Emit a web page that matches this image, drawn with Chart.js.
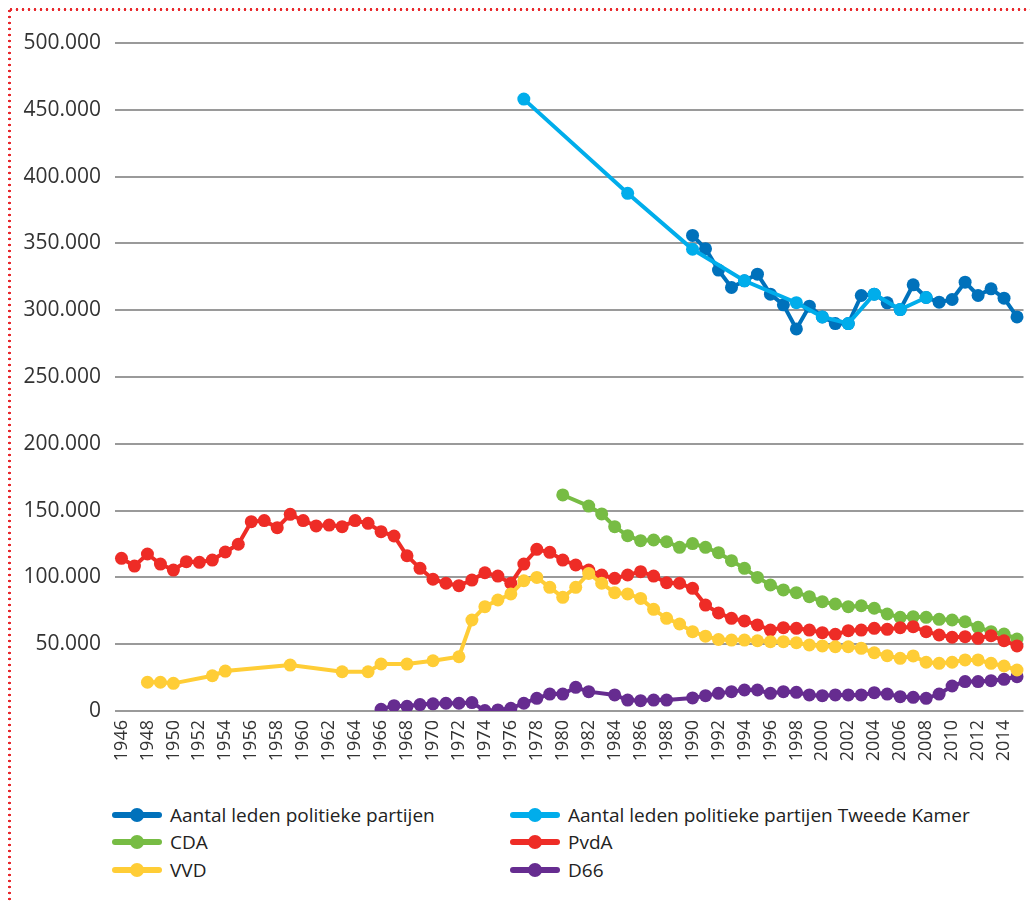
<!DOCTYPE html>
<html>
<head>
<meta charset="utf-8">
<script src="https://cdn.jsdelivr.net/npm/chart.js@4/dist/chart.umd.min.js"></script>
<style>
  html, body { margin: 0; padding: 0; background: #fff; }
  body { width: 1030px; height: 902px; position: relative; overflow: hidden; font-family: 'Open Sans', sans-serif; }
  #frameTop { position: absolute; left: 8px; top: 8px; width: 1030px; height: 3px;
    background: radial-gradient(circle, #e8262a 1.1px, transparent 1.6px) repeat-x; background-size: 6px 3px; }
  #frameLeft { position: absolute; left: 8px; top: 8px; width: 3px; height: 900px;
    background: radial-gradient(circle, #e8262a 1.1px, transparent 1.6px) repeat-y; background-size: 3px 6px; }
  #wrap { position: absolute; left: 0; top: 0; width: 1030px; height: 790px; }
  #legend { position: absolute; left: 112px; top: 801px; display: grid; grid-template-columns: 398px 500px; row-gap: 0px; }
  .item { display: flex; align-items: center; height: 27.5px; font-size: 19px; color: #222; white-space: nowrap; }
  .mk { position: relative; width: 50px; height: 14px; margin-right: 8px; flex: none; }
  .mk .ln { position: absolute; left: 0; right: 0; top: 4px; height: 6px; border-radius: 3px; }
  .mk .dt { position: absolute; left: 18px; top: 0; width: 14px; height: 14px; border-radius: 50%; }
</style>
</head>
<body>
<div id="frameTop"></div>
<div id="frameLeft"></div>
<div id="wrap"><canvas id="c" width="1030" height="790"></canvas></div>
<div id="legend"></div>
<script>
// ---- Data ----
const years = [];
for (let y = 1946; y <= 2015; y++) years.push(String(y));

const yTicks = [0, 50000, 100000, 150000, 200000, 250000, 300000, 350000, 400000, 450000, 500000];

// Aantal leden politieke partijen (1990-2015)
const totalYears = [1990,1991,1992,1993,1994,1995,1996,1997,1998,1999,2000,2001,2002,2003,2004,2005,2006,2007,2008,2009,2010,2011,2012,2013,2014,2015];
const totalValues = [356000,346000,330000,317000,322000,327000,312000,304000,286000,303000,295000,290000,290000,311000,312000,305500,300500,319000,309500,306000,308000,321000,311000,316000,309000,295000];

// Aantal leden politieke partijen Tweede Kamer
const tkYears = [1977,1985,1990,1994,1998,2000,2002,2004,2006,2008];
const tkValues = [458000,387500,345600,322000,305600,295000,290000,312000,300500,309500];

// CDA
const cdaYears = [1980,1982,1983,1984,1985,1986,1987,1988,1989,1990,1991,1992,1993,1994,1995,1996,1997,1998,1999,2000,2001,2002,2003,2004,2005,2006,2007,2008,2009,2010,2011,2012,2013,2014,2015];
const cdaValues = [161700,153400,147500,138000,131200,127500,128000,126700,122500,125300,122500,118500,112500,106800,100000,94300,90600,88600,85600,81800,80100,78100,78800,76900,72600,70100,70600,70100,68600,68100,66800,62600,59400,57600,53900];

// PvdA (1946-2015)
const pvdaYears = years.map(Number);
const pvdaValues = [114300,108500,117500,110000,105500,111800,111300,113000,119000,124800,141700,142500,137200,147200,142500,138500,139200,138000,142500,140500,134200,131000,116200,106800,98600,95600,93800,98000,103500,101000,95600,110000,121000,118800,113000,109300,105500,101800,99300,101800,104300,101000,96000,95600,91800,79300,73400,69400,67400,64400,60600,62400,61900,60600,58600,57400,60100,60600,61900,61100,62400,63100,59400,56900,55200,55600,54400,56400,52600,48700];

// VVD
const vvdYears = [1948,1949,1950,1953,1954,1959,1963,1965,1966,1968,1970,1972,1973,1974,1975,1976,1977,1978,1979,1980,1981,1982,1983,1984,1985,1986,1987,1988,1989,1990,1991,1992,1993,1994,1995,1996,1997,1998,1999,2000,2001,2002,2003,2004,2005,2006,2007,2008,2009,2010,2011,2012,2013,2014,2015];
const vvdValues = [21500,21500,20700,26400,29900,34400,29400,29400,35200,35100,37600,40600,68100,78100,83100,87600,97500,100000,92600,85100,92600,103000,95600,88600,87600,84300,76100,69400,65100,59400,56000,53500,53100,53100,52600,51900,51900,51100,49400,48700,48100,48100,46900,43600,41400,39400,41200,36500,35700,36500,38200,38200,35700,33700,30700];

// D66
const d66Years = [1966,1967,1968,1969,1970,1971,1972,1973,1974,1975,1976,1977,1978,1979,1980,1981,1982,1984,1985,1986,1987,1988,1990,1991,1992,1993,1994,1995,1996,1997,1998,1999,2000,2001,2002,2003,2004,2005,2006,2007,2008,2009,2010,2011,2012,2013,2014,2015];
const d66Values = [1300,4000,3500,4800,5400,5800,5800,6300,300,800,2000,5800,9500,12700,12700,17700,14500,12000,8200,7700,8200,8200,9800,11500,13200,14500,15700,15700,13200,14500,14000,12000,11500,12000,12000,12000,13700,12700,10700,10200,9500,12700,18700,22000,22000,22700,23700,25700];

const seriesNames = ['Aantal leden politieke partijen', 'Aantal leden politieke partijen Tweede Kamer', 'CDA', 'PvdA', 'VVD', 'D66'];
const seriesColors = ['#0071bb', '#00adeb', '#77bc44', '#ee2c26', '#ffcd36', '#662c90'];

// ---- Build ----
function align(ys, vs) {
  const out = years.map(() => null);
  ys.forEach((y, i) => { out[y - 1946] = vs[i]; });
  return out;
}
const seriesData = [
  align(totalYears, totalValues),
  align(tkYears, tkValues),
  align(cdaYears, cdaValues),
  align(pvdaYears, pvdaValues),
  align(vvdYears, vvdValues),
  align(d66Years, d66Values)
];
const drawOrder = [1, 0, 4, 3, 2, 5];

Chart.defaults.font.family = "'Open Sans', sans-serif";

const chart = new Chart(document.getElementById('c'), {
  type: 'line',
  data: {
    labels: years,
    datasets: seriesNames.map((n, i) => ({
      label: n,
      data: seriesData[i],
      borderColor: seriesColors[i],
      backgroundColor: seriesColors[i],
      pointBackgroundColor: seriesColors[i],
      pointBorderWidth: 0,
      pointRadius: 6.5,
      borderWidth: 4,
      spanGaps: true,
      tension: 0,
      order: drawOrder[i]
    }))
  },
  options: {
    responsive: false,
    animation: false,
    layout: { padding: { top: 43, right: 4, left: 0, bottom: 0 } },
    plugins: { legend: { display: false }, tooltip: { enabled: false } },
    scales: {
      x: {
        type: 'category',
        offset: true,
        grid: { display: false, drawTicks: false },
        border: { display: false },
        afterFit: (s) => { s.height = 79; s.paddingRight = 0; },
        ticks: {
          autoSkip: false,
          minRotation: 90, maxRotation: 90,
          padding: 9,
          color: '#333',
          font: { size: 18 },
          callback: function (v, i) { const y = 1946 + i; return (y % 2 === 0) ? String(y) : ''; }
        }
      },
      y: {
        min: 0, max: 500000,
        afterFit: (s) => { s.width = 115; },
        afterBuildTicks: (s) => { s.ticks = yTicks.map(v => ({ value: v })); },
        grid: { color: '#9a9a9a', lineWidth: 2, drawTicks: false },
        border: { display: false },
        ticks: {
          padding: 14,
          color: '#333',
          font: { size: 21 },
          callback: (v) => v === 0 ? '0' : v.toLocaleString('de-DE')
        }
      }
    }
  }
});

// ---- HTML legend (two columns) ----
const legendOrder = [0, 1, 2, 3, 4, 5];
const lg = document.getElementById('legend');
legendOrder.forEach(i => {
  const ds = chart.data.datasets[i];
  const it = document.createElement('div');
  it.className = 'item';
  it.innerHTML = '<span class="mk"><span class="ln" style="background:' + ds.borderColor + '"></span><span class="dt" style="background:' + ds.borderColor + '"></span></span><span>' + ds.label + '</span>';
  lg.appendChild(it);
});
</script>
</body>
</html>
